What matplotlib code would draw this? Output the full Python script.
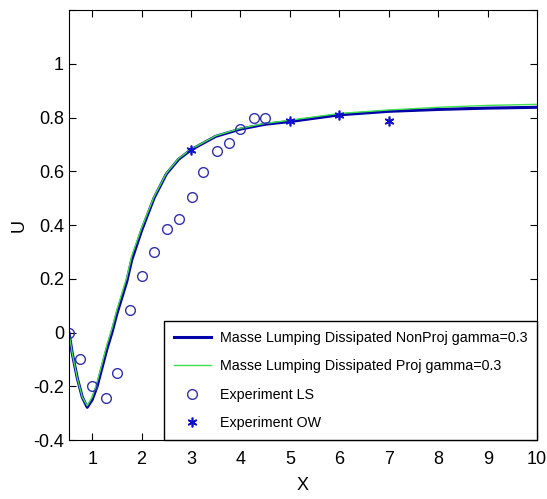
import matplotlib
matplotlib.use('Agg')
import matplotlib.pyplot as plt
import numpy as np

plt.rcParams['font.family'] = ['Liberation Sans Narrow', 'Liberation Sans', 'DejaVu Sans']

# simulated curves
x_curve = [0.53, 0.6, 0.7, 0.8, 0.9, 1.0, 1.1, 1.2, 1.3, 1.4, 1.5, 1.6, 1.7, 1.8,
           2.0, 2.25, 2.5, 2.75, 3.0, 3.5, 4.0, 4.5, 5.0, 6.0, 7.0, 8.0, 9.0, 10.0]
u_nonproj = [0.0, -0.08, -0.17, -0.24, -0.278, -0.25, -0.2, -0.13, -0.06, 0.0, 0.07, 0.13,
             0.19, 0.27, 0.38, 0.50, 0.59, 0.645, 0.68, 0.73, 0.757, 0.775, 0.785, 0.81,
             0.823, 0.830, 0.835, 0.838]
u_proj = [0.0, -0.08, -0.17, -0.24, -0.272, -0.24, -0.185, -0.115, -0.045, 0.015, 0.085, 0.145,
          0.205, 0.285, 0.39, 0.505, 0.593, 0.648, 0.682, 0.732, 0.76, 0.778, 0.79, 0.815,
          0.828, 0.838, 0.845, 0.849]

# experiments
x_ls = [0.53, 0.76, 1.0, 1.27, 1.5, 1.77, 2.0, 2.25, 2.52, 2.76, 3.02, 3.25, 3.52, 3.76,
        4.0, 4.27, 4.5]
u_ls = [0.0, -0.1, -0.2, -0.245, -0.15, 0.083, 0.21, 0.30, 0.387, 0.424, 0.503, 0.596,
        0.674, 0.704, 0.756, 0.797, 0.797]
x_ow = [3.0, 5.0, 6.0, 7.0]
u_ow = [0.68, 0.786, 0.81, 0.786]

fig = plt.figure(figsize=(5.47, 4.99), dpi=100)
ax = fig.add_axes([0.126, 0.118, 0.856, 0.862])

ax.plot(x_curve, u_nonproj, '-', color='#0000a8', lw=2.2,
        label='Masse Lumping Dissipated NonProj gamma=0.3')
ax.plot(x_curve, u_proj, '-', color='#40e050', lw=1.0,
        label='Masse Lumping Dissipated Proj gamma=0.3')
ax.plot(x_ls, u_ls, 'o', mfc='none', mec='#3030b0', ms=7, mew=1.0, label='Experiment LS')
ax.plot(x_ow, u_ow, ls='none', marker=(6, 2, 0), color='#1010d0', ms=7, mew=1.2,
        label='Experiment OW')

ax.set_xlim(0.53, 10)
ax.set_ylim(-0.4, 1.2)
ax.set_xticks(range(1, 11))
ax.set_yticks([-0.4, -0.2, 0, 0.2, 0.4, 0.6, 0.8, 1.0, 1.2])
ax.set_yticklabels(['-0.4', '-0.2', '0', '0.2', '0.4', '0.6', '0.8', '1', ''])
ax.tick_params(direction='in', top=True, right=True, labelsize=13, length=5)
ax.tick_params(axis='x', pad=8)
ax.set_xlabel('X', fontsize=13, labelpad=6)
ax.set_ylabel('U', fontsize=13)

leg = ax.legend(loc='lower right', fontsize=10.3, fancybox=False, framealpha=1,
                edgecolor='black', borderaxespad=0, handlelength=2.6,
                handletextpad=0.6, labelspacing=1.0, borderpad=0.7)
leg.get_frame().set_linewidth(1.0)

fig.savefig('out.png', dpi=100)
